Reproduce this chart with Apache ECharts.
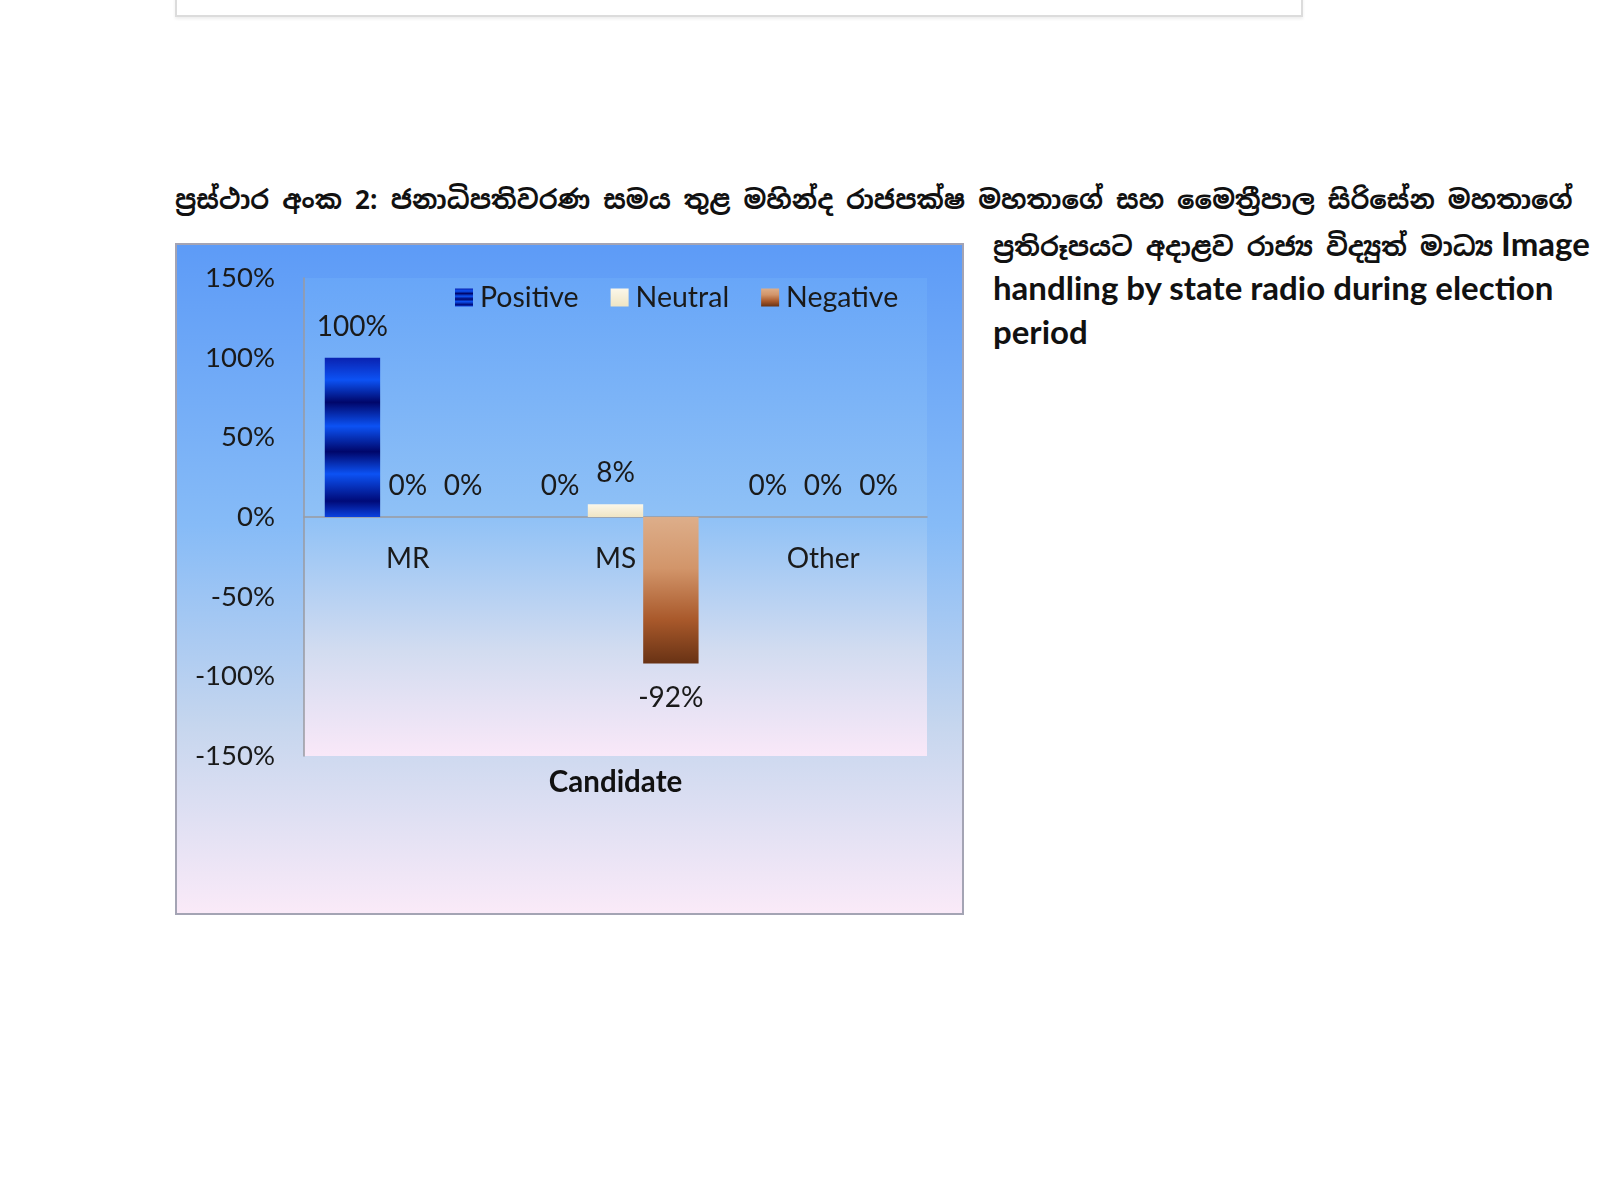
<!DOCTYPE html>
<html>
<head>
<meta charset="utf-8">
<title>Image handling by state radio</title>
<script src="https://cdn.jsdelivr.net/npm/echarts@6/dist/echarts.min.js"></script>
<style>
  body{margin:0;background:#fff;width:1600px;height:1199px;position:relative;overflow:hidden;font-family:Lato,"Noto Sans",sans-serif;}
  .topbox{position:absolute;left:175px;top:-10px;width:1124px;height:23px;border:2px solid #dcdcdc;box-shadow:0 2px 3px #eee;}
  .si{font-family:"Noto Sans Sinhala","Noto Sans",Lato,sans-serif;font-weight:bold;}
  .title{position:absolute;left:175px;top:183px;font-size:26px;color:#111;white-space:nowrap;}
  .side{position:absolute;left:993px;top:221px;width:615px;font-size:33px;line-height:44px;font-weight:bold;color:#111;}
  .side .si{font-size:26px;line-height:20px;vertical-align:baseline;}
  #chartbox{position:absolute;left:175px;top:243px;width:785px;height:668px;border:2px solid #a4a4b4;}
  #main{width:785px;height:668px;}
</style>
</head>
<body>
<div class="topbox"></div>
<div class="title si">ප්‍රස්ථාර අංක 2: ජනාධිපතිවරණ සමය තුළ මහින්ද රාජපක්ෂ මහතාගේ සහ මෛත්‍රීපාල සිරිසේන මහතාගේ</div>
<div class="side"><span class="si">ප්‍රතිරූපයට අදාළව රාජ්‍ය විද්‍යුත් මාධ්‍ය</span> Image handling by state radio during election period</div>
<div id="chartbox"><div id="main"></div></div>

<script type="text/javascript">
  // data
  var candidates = ['MR', 'MS', 'Other'];
  var positive = [1.00, 0.00, 0.00];
  var neutral  = [0.00, 0.08, 0.00];
  var negative = [0.00, -0.92, 0.00];

  function pct(v){ return Math.round(v*100) + '%'; }

  function vgrad(stops){
    return new echarts.graphic.LinearGradient(0, 0, 0, 1, stops.map(function(s){ return {offset:s[0], color:s[1]}; }));
  }

  // negative values get their label under the bar
  function items(arr){
    return arr.map(function(v){
      return v < 0 ? {value: v, label: {position: 'bottom', distance: 20}} : v;
    });
  }

  var labelStyle = {
    show: true, position: 'top', distance: 17,
    fontSize: 28, color: '#1a1a1a', fontFamily: 'Lato',
    formatter: function(p){ return pct(p.value); }
  };

  var myChart = echarts.init(document.getElementById('main'));
  var option = {
    backgroundColor: vgrad([[0,'#5d9bf7'],[0.42,'#86bbf7'],[0.72,'#c6d6ee'],[1,'#faeaf8']]),
    textStyle: {fontFamily: 'Lato'},
    legend: {
      top: 33, left: 273,
      itemWidth: 18, itemHeight: 18, itemGap: 32,
      icon: 'rect',
      textStyle: {fontSize: 28.5, color: '#1a1a1a', fontFamily: 'Lato', padding: [0, 0, 0, 2]},
      data: ['Positive', 'Neutral', 'Negative']
    },
    grid: {
      left: 127, right: 35, top: 33, bottom: 157,
      outerBoundsMode: 'none', containLabel: false,
      show: true, borderWidth: 0,
      backgroundColor: vgrad([[0,'#68a6f8'],[0.5,'#8fc1f6'],[0.78,'#d2dcf0'],[1,'#f9e8f8']])
    },
    xAxis: {
      type: 'category',
      data: candidates,
      axisLine: {onZero: true, lineStyle: {color: '#9a9aa0', width: 1.5}},
      axisTick: {show: false},
      axisLabel: {fontSize: 28, color: '#1a1a1a', margin: -211},
      name: 'Candidate',
      nameLocation: 'middle',
      nameGap: 11,
      nameTextStyle: {fontSize: 29.5, fontWeight: 'bold', color: '#111'}
    },
    yAxis: {
      type: 'value',
      min: -1.5, max: 1.5, interval: 0.5,
      axisLine: {show: true, lineStyle: {color: '#9a9aa0', width: 1.5}},
      axisTick: {show: false},
      splitLine: {show: false},
      axisLabel: {fontSize: 27.5, color: '#1a1a1a', margin: 29, formatter: pct}
    },
    series: [{
      name: 'Positive', type: 'bar', barGap: 0, barCategoryGap: '20%',
      data: items(positive),
      label: labelStyle,
      itemStyle: {color: vgrad([[0,'#0a22b0'],[0.14,'#0c52f4'],[0.28,'#00066a'],[0.43,'#0c52f4'],[0.59,'#00066a'],[0.73,'#0c52f4'],[0.9,'#000a78'],[1,'#0a42e0']])}
    }, {
      name: 'Neutral', type: 'bar', barGap: 0, barCategoryGap: '20%',
      data: items(neutral),
      label: labelStyle,
      itemStyle: {color: vgrad([[0,'#fbf7ea'],[1,'#efe5c4']])}
    }, {
      name: 'Negative', type: 'bar', barGap: 0, barCategoryGap: '20%',
      data: items(negative),
      label: labelStyle,
      itemStyle: {color: vgrad([[0,'#ddae8a'],[0.35,'#d2956a'],[0.7,'#a9592b'],[1,'#683214']])}
    }]
  };
  myChart.setOption(option);
</script>
</body>
</html>
